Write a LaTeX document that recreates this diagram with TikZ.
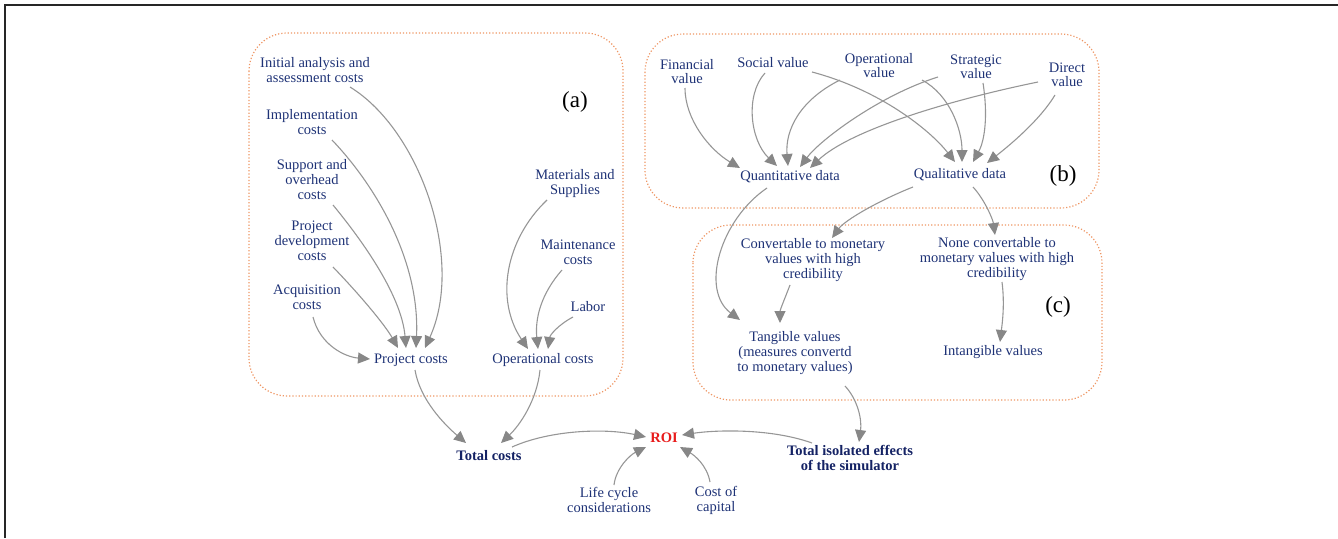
\documentclass[tikz,border=0pt]{standalone}
\usepackage{fontspec}
\setmainfont{Liberation Serif}
\usetikzlibrary{arrows.meta}
\definecolor{navy}{RGB}{30,50,118}
\definecolor{navyb}{RGB}{20,34,100}
\definecolor{roired}{RGB}{232,28,28}
\definecolor{boxor}{RGB}{238,150,100}
\definecolor{conn}{RGB}{150,150,150}
\definecolor{headc}{RGB}{135,135,135}
\tikzset{
  lbl/.style={text=navy, font=\fontsize{14.5}{15}\selectfont, align=center, inner sep=0pt},
  lblb/.style={text=navy, font=\fontsize{14.5}{14}\selectfont, align=center, inner sep=0pt},
  bold/.style={text=navyb, font=\fontsize{14.5}{15}\selectfont\bfseries, align=center, inner sep=0pt},
  roi/.style={text=roired, font=\fontsize{14.5}{15}\selectfont\bfseries, inner sep=0pt},
  tag/.style={text=black, font=\fontsize{23}{24}\selectfont, inner sep=0pt},
  grp/.style={draw=boxor, dotted, line width=1.2pt, rounded corners=38pt},
  conn/.style={draw=conn, line width=1.1pt, -{Triangle[length=12pt,width=11pt,color=headc]}},
}
\begin{document}
\begin{tikzpicture}[x=1pt,y=-1pt]
\useasboundingbox (0,0) rectangle (1338,538);
\draw[line width=2pt, black!85] (5,538) -- (5,5) -- (1338,5);
% group boxes
\draw[grp] (249,33) rectangle (623,396);
\draw[grp] (645,34) rectangle (1099,208);
\draw[grp] (693,225) rectangle (1102,400);
% (a) nodes
\node[lbl] (init) at (315,70) {Initial analysis and\\assessment costs};
\node[lbl] (impl) at (312,122) {Implementation\\costs};
\node[lbl] (supp) at (312,180) {Support and\\overhead\\costs};
\node[lbl] (pdev) at (312,241) {Project\\development\\costs};
\node[lbl] (acq) at (307,297) {Acquisition\\costs};
\node[lbl] (projc) at (411,360) {Project costs};
\node[tag] (taga) at (575,102) {(a)};
\node[lbl] (mat) at (575,184) {Materials and\\Supplies};
\node[lbl] (maint) at (578,252) {Maintenance\\costs};
\node[lbl] (labor) at (588,307) {Labor};
\node[lbl] (opc) at (543,360) {Operational costs};
% (b) nodes
\node[lblb] (fin) at (687,72) {Financial\\value};
\node[lblb] (soc) at (773,63) {Social value};
\node[lblb] (opv) at (879,66) {Operational\\value};
\node[lblb] (strat) at (976,67) {Strategic\\value};
\node[lblb] (dir) at (1067,75) {Direct\\value};
\node[lbl] (quant) at (790,177) {Quantitative data};
\node[lbl] (qual) at (960,175) {Qualitative data};
\node[tag] (tagb) at (1063,176) {(b)};
% (c) nodes
\node[lbl] (conv) at (813,260) {Convertable to monetary\\values with high\\credibility};
\node[lbl] (none) at (997,259) {None convertable to\\monetary values with high\\credibility};
\node[tag] (tagc) at (1058,307) {(c)};
\node[lbl] (tang) at (795,353) {Tangible values\\(measures convertd\\to monetary values)};
\node[lbl] (intang) at (993,352) {Intangible values};
% bottom nodes
\node[bold] (totc) at (489,456) {Total costs};
\node[roi] (roi) at (664,438) {ROI};
\node[bold] (iso) at (850,458) {Total isolated effects\\of the simulator};
\node[lbl] (life) at (609,500) {Life cycle\\considerations};
\node[lbl] (cap) at (716,500) {Cost of\\capital};
% (a) connectors
\draw[conn] ([shift={(35,17)}]init.center) .. controls (420,130) and (465,260) .. ([shift={(14,-12)}]projc.center);
\draw[conn] ([shift={(20,18)}]impl.center) .. controls (375,185) and (420,260) .. ([shift={(5,-12)}]projc.center);
\draw[conn] ([shift={(21,25)}]supp.center) .. controls (370,250) and (402,300) .. ([shift={(-5,-12)}]projc.center);
\draw[conn] ([shift={(21,26)}]pdev.center) .. controls (360,295) and (385,325) .. ([shift={(-13,-12)}]projc.center);
\draw[conn] ([shift={(6,20)}]acq.center) .. controls (320,345) and (345,357) .. ([shift={(-41,-1)}]projc.center);
\draw[conn] ([shift={(-28,16)}]mat.center) .. controls (505,240) and (495,300) .. ([shift={(-15,-11)}]opc.center);
\draw[conn] ([shift={(-16,18)}]maint.center) .. controls (540,295) and (535,320) .. ([shift={(-5,-11)}]opc.center);
\draw[conn] ([shift={(-15,10)}]labor.center) .. controls (558,325) and (550,335) .. ([shift={(5,-11)}]opc.center);
\draw[conn] ([shift={(4,10)}]projc.center) .. controls (420,400) and (445,425) .. ([shift={(-23,-13)}]totc.center);
\draw[conn] ([shift={(-3,10)}]opc.center) .. controls (537,400) and (520,425) .. ([shift={(12,-13)}]totc.center);
% bottom connectors
\draw[conn] ([shift={(23,-9)}]totc.center) .. controls (550,430) and (605,428) .. ([shift={(-18,-1)}]roi.center);
\draw[conn] ([shift={(-38,-15)}]iso.center) .. controls (770,428) and (715,430) .. ([shift={(18,-3)}]roi.center);
\draw[conn] ([shift={(5,-15)}]life.center) .. controls (616,468) and (630,455) .. ([shift={(-18,9)}]roi.center);
\draw[conn] ([shift={(-6,-18)}]cap.center) .. controls (707,465) and (694,455) .. ([shift={(16,9)}]roi.center);
\draw[conn] ([shift={(50,33)}]tang.center) .. controls (858,400) and (862,420) .. ([shift={(9,-16)}]iso.center);
% (b) connectors
\draw[conn] ([shift={(-2,16)}]fin.center) .. controls (685,120) and (710,150) .. ([shift={(-50,-9)}]quant.center);
\draw[conn] ([shift={(-8,10)}]soc.center) .. controls (745,95) and (750,140) .. ([shift={(-13,-11)}]quant.center);
\draw[conn] ([shift={(-39,14)}]opv.center) .. controls (800,100) and (785,130) .. ([shift={(-2,-11)}]quant.center);
\draw[conn] ([shift={(-38,10)}]strat.center) .. controls (880,95) and (820,140) .. ([shift={(10,-10)}]quant.center);
\draw[conn] ([shift={(-29,7)}]dir.center) .. controls (950,100) and (850,130) .. ([shift={(20,-9)}]quant.center);
\draw[conn] ([shift={(39,9)}]soc.center) .. controls (880,90) and (930,130) .. ([shift={(-5,-13)}]qual.center);
\draw[conn] ([shift={(43,14)}]opv.center) .. controls (950,95) and (962,130) .. ([shift={(2,-13)}]qual.center);
\draw[conn] ([shift={(7,16)}]strat.center) .. controls (988,115) and (985,140) .. ([shift={(13,-13)}]qual.center);
\draw[conn] ([shift={(-12,20)}]dir.center) .. controls (1040,120) and (1010,145) .. ([shift={(27,-12)}]qual.center);
% (b)->(c) connectors
\draw[conn] ([shift={(-23,11)}]quant.center) .. controls (720,220) and (700,290) .. ([shift={(-55,-33)}]tang.center);
\draw[conn] ([shift={(-47,12)}]qual.center) .. controls (880,200) and (845,220) .. ([shift={(19,-22)}]conv.center);
\draw[conn] ([shift={(13,12)}]qual.center) .. controls (985,200) and (993,220) .. ([shift={(-2,-24)}]none.center);
\draw[conn] ([shift={(-23,25)}]conv.center) .. controls (785,298) and (780,310) .. ([shift={(-15,-30)}]tang.center);
\draw[conn] ([shift={(5,23)}]none.center) .. controls (1005,305) and (1002,325) .. ([shift={(7,-10)}]intang.center);
\end{tikzpicture}
\end{document}
